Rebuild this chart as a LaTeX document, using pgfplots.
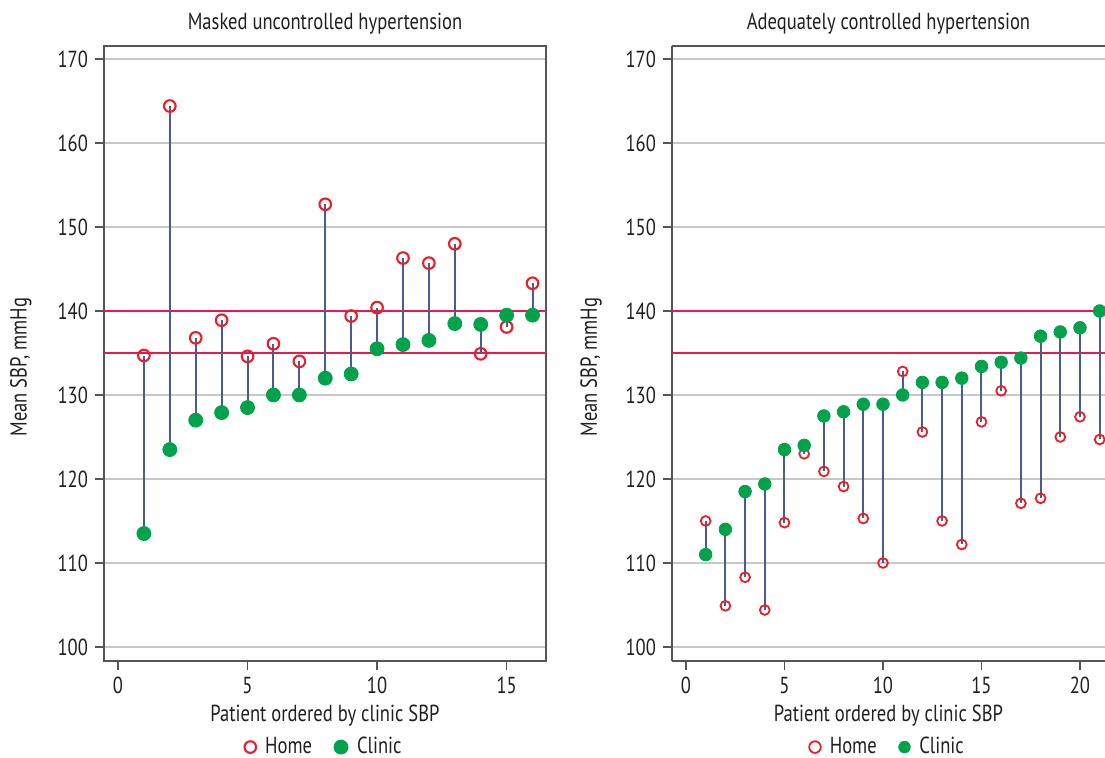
\documentclass[border=0pt]{standalone}
\usepackage{fontspec}
\setmainfont[FakeStretch=0.8]{PT Sans}
\usepackage{pgfplots}
\pgfplotsset{compat=1.18}
\usepackage{pgfplotstable}

\definecolor{homered}{RGB}{232,30,40}
\definecolor{refred}{RGB}{232,24,80}
\definecolor{clingreen}{RGB}{0,163,76}
\definecolor{stemblue}{RGB}{74,92,140}
\definecolor{gridgray}{RGB}{200,200,200}
\definecolor{axisgray}{RGB}{85,85,85}

\pgfplotstableread{
x home clinic
1 134.7 113.5
2 164.4 123.5
3 136.8 127.0
4 138.9 127.9
5 134.6 128.5
6 136.1 130.0
7 134.0 130.0
8 152.7 132.0
9 139.4 132.5
10 140.4 135.5
11 146.3 136.0
12 145.7 136.5
13 148.0 138.5
14 134.9 138.4
15 138.1 139.5
16 143.3 139.5
}\masked

\pgfplotstableread{
x home clinic
1 115.0 111.0
2 104.9 114.0
3 108.3 118.5
4 104.4 119.4
5 114.8 123.5
6 123.0 124.0
7 120.9 127.5
8 119.1 128.0
9 115.3 128.9
10 110.0 128.9
11 132.8 130.0
12 125.6 131.5
13 115.0 131.5
14 112.2 132.0
15 126.8 133.4
16 130.5 133.9
17 117.1 134.4
18 117.7 137.0
19 125.0 137.5
20 127.4 138.0
21 124.7 140.0
}\adequate

\newcommand{\fs}{\fontsize{11.6}{13.9}\selectfont}

\pgfplotsset{
  sbpaxis/.style={
    scale only axis,
    height=307.5pt,
    ymin=98.33, ymax=171.55,
    ytick={100,110,...,170},
    ymajorgrids,
    grid style={draw=gridgray, line width=0.75pt},
    axis line style={draw=axisgray, line width=0.75pt},
    tick style={draw=axisgray, line width=0.75pt},
    tick align=outside,
    major tick length=4.5pt,
    xtick pos=left, ytick pos=left,
    tick label style={font=\fs, text=black!88},
    /pgf/number format/assume math mode=true,
    every axis title/.style={font=\fs, text=black!88, at={(axis description cs:0.5,1)}, anchor=center, yshift=11pt},
    label style={font=\fs, text=black!88},
    xlabel={Patient ordered by clinic SBP},
    ylabel={Mean SBP, mmHg},
    xlabel style={at={(axis description cs:0.5,-0.0894)}, anchor=center},
    legend style={draw=none, fill=none, font=\fs, text=black!88,
      at={(axis description cs:0.5,-0.140)}, anchor=center,
      /tikz/every odd column/.append style={column sep=2.5pt},
      /tikz/every even column/.append style={column sep=9pt}},
    legend columns=2,
    legend image code/.code={\draw[#1] plot coordinates {(0cm,0cm)};},
  },
  stems/.style={draw=none, mark=none, forget plot,
    error bars/.cd, y dir=both, y explicit, error mark=none,
    error bar style={draw=stemblue, line width=1pt, solid}},
}

\begin{document}
\begin{tikzpicture}
\useasboundingbox (-52pt,-48.5pt) rectangle (500.5pt,330.5pt);

\begin{axis}[sbpaxis,
  at={(0pt,0pt)}, anchor=south west,
  width=221pt,
  xmin=-0.54, xmax=16.52,
  xtick={0,5,10,15},
  title={Masked uncontrolled hypertension},
  ylabel style={at={(axis description cs:-0.188,0.478)}, anchor=center},
]
\addplot[refred, line width=1.1pt, forget plot] coordinates {(-5,140) (30,140)};
\addplot[refred, line width=1.1pt, forget plot] coordinates {(-5,135) (30,135)};
\addplot[stems] table[x=x, y=clinic,
  y error plus expr={max(\thisrow{home}-\thisrow{clinic},0)},
  y error minus expr={max(\thisrow{clinic}-\thisrow{home},0)}] {\masked};
\addplot[only marks, mark=o, mark size=2.9pt, mark options={draw=homered, line width=1.05pt}]
  table[x=x, y=home] {\masked};
\addlegendentry{Home}
\addplot[only marks, mark=*, mark size=3.5pt, mark options={draw=clingreen, fill=clingreen}]
  table[x=x, y=clinic] {\masked};
\addlegendentry{Clinic}
\end{axis}

\begin{axis}[sbpaxis,
  at={(284pt,0pt)}, anchor=south west,
  width=216.5pt,
  xmin=-0.71, xmax=21.27,
  axis x line*=box, axis y line*=left,
  xtick={0,5,10,15,20},
  title={Adequately controlled hypertension},
  ylabel style={at={(axis description cs:-0.187,0.478)}, anchor=center},
  legend image code/.code={\draw[#1, mark size=2.9pt] plot coordinates {(0cm,0cm)};},
]
\addplot[refred, line width=1.1pt, forget plot] coordinates {(-5,140) (30,140)};
\addplot[refred, line width=1.1pt, forget plot] coordinates {(-5,135) (30,135)};
\addplot[stems] table[x=x, y=clinic,
  y error plus expr={max(\thisrow{home}-\thisrow{clinic},0)},
  y error minus expr={max(\thisrow{clinic}-\thisrow{home},0)}] {\adequate};
\addplot[only marks, mark=o, mark size=2.45pt, mark options={draw=homered, line width=0.9pt}]
  table[x=x, y=home] {\adequate};
\addlegendentry{Home}
\addplot[only marks, mark=*, mark size=3.15pt, mark options={draw=clingreen, fill=clingreen}]
  table[x=x, y=clinic] {\adequate};
\addlegendentry{Clinic}
\end{axis}
\end{tikzpicture}
\end{document}
